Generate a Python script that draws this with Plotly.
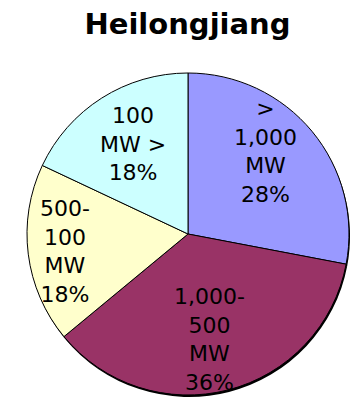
import math
import plotly.graph_objects as go

# Installed capacity share by plant size class
categories = ["> 1,000 MW", "1,000-500 MW", "500-100 MW", "100 MW >"]
label_lines = ["><br>1,000<br>MW", "1,000-<br>500<br>MW", "500-<br>100<br>MW", "100<br>MW >"]
shares = [28, 36, 18, 18]
colors = ["#9999FF", "#993366", "#FFFFCC", "#CCFFFF"]

W, H = 350, 399
cx, cy, r = 188, 234, 161
shadow_dx, shadow_dy = 1, 2

# label placement along each slice: radial distance (px) and angular nudge (deg)
label_dist = [113, 108, 124, 106]
label_nudge = [-7, 3, -1, 1]

FONT = "DejaVu Sans, Verdana, sans-serif"


def dom(x0, y0, rad):
    return dict(x=[(x0 - rad) / W, (x0 + rad) / W],
                y=[(H - y0 - rad) / H, (H - y0 + rad) / H])


fig = go.Figure()

# drop shadow under the pie
fig.add_trace(go.Pie(
    labels=categories, values=shares, sort=False, direction="clockwise",
    marker=dict(colors=["#000000"] * len(shares), line=dict(width=0)),
    textinfo="none", hoverinfo="skip", showlegend=False,
    domain=dom(cx + shadow_dx, cy + shadow_dy, r),
))

fig.add_trace(go.Pie(
    labels=categories, values=shares, sort=False, direction="clockwise",
    textinfo="none",
    marker=dict(colors=colors, line=dict(color="#000000", width=1)),
    showlegend=False,
    domain=dom(cx, cy, r),
))

# slice labels, placed on each slice's bisector (clockwise from 12 o'clock)
total = sum(shares)
start = 0.0
for lines, v, d, nudge in zip(label_lines, shares, label_dist, label_nudge):
    span = 360.0 * v / total
    ang = math.radians(start + span / 2 + nudge)
    start += span
    px = cx + d * math.sin(ang)
    py = cy - d * math.cos(ang)
    fig.add_annotation(
        x=px / W, y=(H - py) / H, xref="paper", yref="paper",
        text=f"{lines}<br>{v}%", showarrow=False,
        xanchor="center", yanchor="middle", align="center",
        font=dict(family=FONT, size=22, color="#000000"),
    )

fig.update_layout(
    width=W, height=H,
    margin=dict(l=0, r=0, t=0, b=0),
    paper_bgcolor="#FFFFFF",
    title=dict(text="<b>Heilongjiang</b>", x=187.5 / W, xanchor="center",
               y=1 - 24 / H, yanchor="middle", yref="container",
               font=dict(family=FONT, size=29, color="#000000")),
)

fig.write_html("out.html")
